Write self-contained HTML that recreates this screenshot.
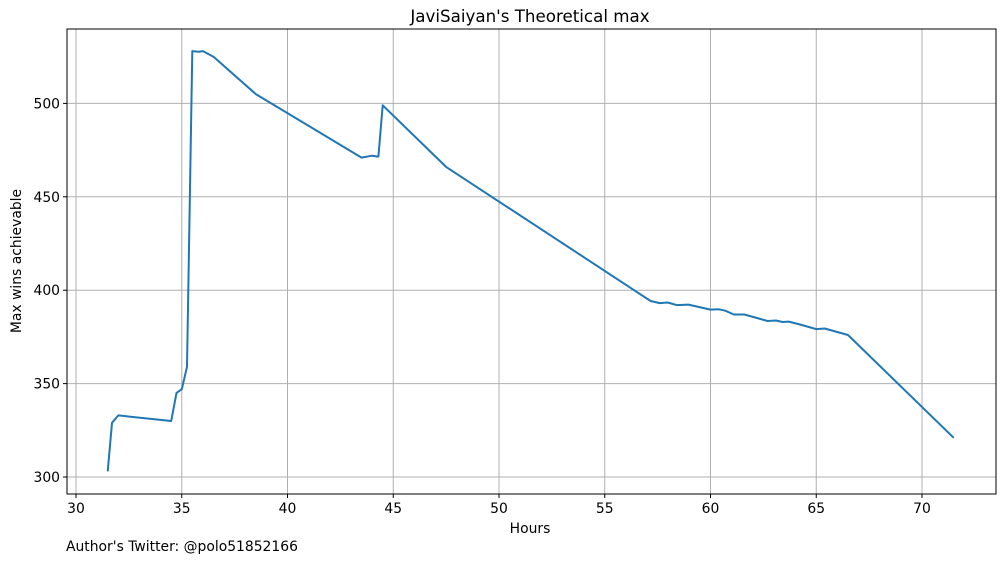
<!DOCTYPE html>
<html><head><meta charset="utf-8"><style>
body{margin:0;background:#fff;font-family:"Liberation Sans","DejaVu Sans",sans-serif}
</style></head><body>
<svg id="chart" width="1005" height="562" xmlns="http://www.w3.org/2000/svg" font-family="DejaVu Sans, Liberation Sans, sans-serif">
<rect width="1005" height="562" fill="#fff"/>
<g id="grid"></g>
<g id="ticks"></g>
<path id="line" fill="none" stroke="#1f77b4" stroke-width="2" stroke-linejoin="round"/>
<rect x="67" y="29" width="929" height="465" fill="none" stroke="#000" stroke-width="1"/>
<text x="530" y="22" font-size="16.7" text-anchor="middle">JaviSaiyan's Theoretical max</text>
<text x="530" y="533" font-size="13.9" text-anchor="middle">Hours</text>
<text transform="translate(21,261) rotate(-90)" font-size="13.9" text-anchor="middle">Max wins achievable</text>
<text x="66" y="551" font-size="13.9">Author's Twitter: @polo51852166</text>
</svg>
<script>
const hours=[31.5,31.7,32.0,34.5,34.75,35.0,35.25,35.5,35.8,36.0,36.5,38.5,43.5,44.0,44.3,44.5,47.5,57.17,57.6,57.97,58.4,58.96,60.0,60.4,60.7,61.1,61.6,62.7,63.1,63.4,63.7,64.3,65.0,65.4,66.5,71.5];
const wins=[303,329,333,330,345,347,359,528,527.7,528,525,505,471,472,471.5,499,466,394.2,393.1,393.4,392,392.3,389.6,389.8,389,387,387,383.5,383.8,383,383.2,381.4,379.2,379.5,376,321];
const xTicks=[30,35,40,45,50,55,60,65,70];
const yTicks=[300,350,400,450,500];
const NS="http://www.w3.org/2000/svg";
const X=v=>76+(v-30)*21.15;
const Y=v=>477-(v-300)*1.868;
const grid=document.getElementById('grid'),ticks=document.getElementById('ticks');
function mk(t,a,p){const e=document.createElementNS(NS,t);for(const k in a)e.setAttribute(k,a[k]);p.appendChild(e);return e;}
xTicks.forEach(v=>{
 const g=mk('line',{x1:X(v),x2:X(v),y1:29,y2:494,stroke:'#b0b0b0','stroke-width':1},grid);
 
 
 mk('line',{x1:X(v),x2:X(v),y1:494,y2:498,stroke:'#000'},ticks);
 const t=mk('text',{x:X(v),y:513,'font-size':13.9,'text-anchor':'middle'},ticks);t.textContent=v;
 
 
});
yTicks.forEach(v=>{
 const g=mk('line',{x1:67,x2:996,y1:Y(v),y2:Y(v),stroke:'#b0b0b0','stroke-width':1},grid);
 
 
 mk('line',{x1:63,x2:67,y1:Y(v),y2:Y(v),stroke:'#000'},ticks);
 const t=mk('text',{x:60,y:Y(v)+5,'font-size':13.9,'text-anchor':'end'},ticks);t.textContent=v;
 
 
});
document.getElementById('line').setAttribute('d',hours.map((h,i)=>(i?'L':'M')+X(h).toFixed(1)+','+Y(wins[i]).toFixed(1)).join(''));
</script>
</body></html>
